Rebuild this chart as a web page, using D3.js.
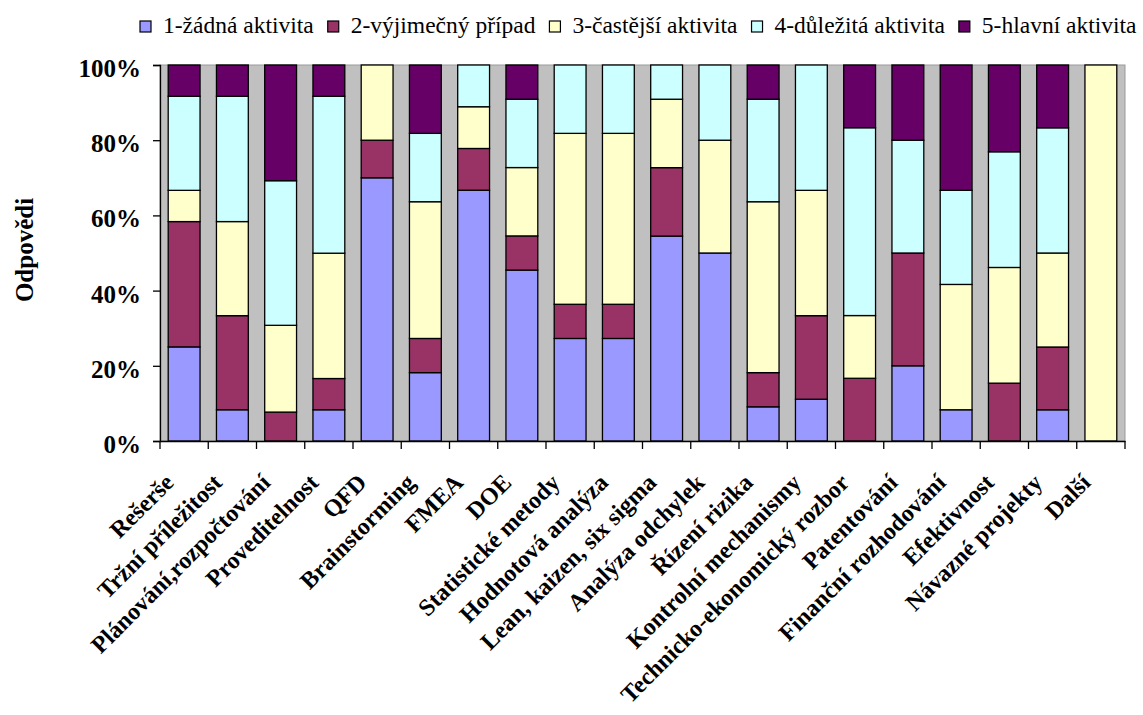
<!DOCTYPE html>
<html>
<head>
<meta charset="utf-8">
<script src="https://cdn.jsdelivr.net/npm/d3@7"></script>
<style>
  html, body { margin: 0; padding: 0; background: #fff; }
  svg { display: block; }
</style>
</head>
<body>
<svg id="chart" width="1143" height="715"></svg>
<script>
const categories = ["Rešerše","Tržní příležitost","Plánování,rozpočtování","Proveditelnost","QFD","Brainstorming","FMEA","DOE","Statistické metody","Hodnotová analýza","Lean, kaizen, six sigma","Analýza odchylek","Řízení rizika","Kontrolní mechanismy","Technicko-ekonomický rozbor","Patentování","Finanční rozhodování","Efektivnost","Návazné projekty","Další"];
const seriesNames = ["1-žádná aktivita","2-výjimečný případ","3-častější aktivita","4-důležitá aktivita","5-hlavní aktivita"];
const s1 = [25,8.3,0,8.3,70,18.2,66.7,45.5,27.3,27.3,54.5,50,9.1,11.1,0,20,8.3,0,8.3,0];
const s2 = [33.3,25,7.7,8.3,10,9.1,11.1,9.1,9.1,9.1,18.2,0,9.1,22.2,16.7,30,0,15.4,16.7,0];
const s3 = [8.3,25,23.1,33.3,20,36.4,11.1,18.2,45.5,45.5,18.2,30,45.5,33.3,16.7,0,33.3,30.8,25,100];
const s4 = [25,33.3,38.5,41.7,0,18.2,11.1,18.2,18.2,18.2,9.1,20,27.3,33.3,50,30,25,30.8,33.3,0];
const s5 = [8.3,8.3,30.8,8.3,0,18.2,0,9.1,0,0,0,0,9.1,0,16.7,20,33.3,23.1,16.7,0];
const yTicks = [0,0.2,0.4,0.6,0.8,1.0];
const colors = ["#9999FF","#993366","#FFFFCC","#CCFFFF","#660066"];
const axisTitle = "Odpovědi";

const FONT = "'Liberation Serif','Times New Roman',Times,serif";
const svg = d3.select("#chart");
const m = {left:160, right:1125, top:65, bottom:441};

const allSeries = [s1,s2,s3,s4,s5];
const rows = categories.map((c,i)=>{
  const r = {cat:c};
  seriesNames.forEach((n,j)=> r[n] = allSeries[j][i]);
  return r;
});
const stack = d3.stack().keys(seriesNames).offset(d3.stackOffsetExpand);
const stacked = stack(rows);

const x = d3.scaleBand().domain(categories).range([m.left, m.right]).paddingInner(0.34).paddingOuter(0.17);
const y = d3.scaleLinear().domain([0,1]).range([m.bottom, m.top]);

// plot background
svg.append("rect").attr("x", m.left).attr("y", m.top)
  .attr("width", m.right-m.left).attr("height", m.bottom-m.top)
  .attr("fill", "#C0C0C0").attr("stroke","#9a9a9a").attr("stroke-width",1);

// bars
const g = svg.append("g");
stacked.forEach((layer, j)=>{
  g.selectAll(null).data(layer).enter().append("rect")
    .attr("x", d=> x(d.data.cat))
    .attr("width", x.bandwidth())
    .attr("y", d=> y(d[1]))
    .attr("height", d=> Math.max(0, y(d[0]) - y(d[1])))
    .attr("fill", colors[j])
    .attr("stroke", d => (d[1]-d[0])>0 ? "#000" : "none")
    .attr("stroke-width", 1.3);
});

// y axis
const yAxis = d3.axisLeft(y).tickValues(yTicks).tickFormat(d3.format(".0%")).tickSize(7).tickPadding(12);
const ya = svg.append("g").attr("transform", `translate(${m.left},0)`).call(yAxis);
ya.select(".domain").attr("stroke","#000").attr("stroke-width",1.3);
ya.selectAll(".tick line").attr("stroke","#000").attr("stroke-width",1.3);
ya.selectAll(".tick text").attr("font-family", FONT).attr("font-size", 25).attr("font-weight","bold")
  .attr("fill","#000").attr("dy","0.46em");

// x axis
const xAxis = d3.axisBottom(x).tickSize(0).tickFormat("");
const xa = svg.append("g").attr("transform", `translate(0,${m.bottom})`).call(xAxis);
xa.select(".domain").attr("stroke","#000").attr("stroke-width",1.3);
// tick marks at band boundaries
const step = x.step();
const bounds = d3.range(categories.length+1).map(i => m.left + i*step);
xa.selectAll(".bound").data(bounds).enter().append("line")
  .attr("x1", d=>d).attr("x2", d=>d).attr("y1", 0).attr("y2", 8)
  .attr("stroke","#000").attr("stroke-width",1.3);

// x labels
svg.append("g").selectAll("text").data(categories).enter().append("text")
  .attr("transform", d => `translate(${x(d)+x.bandwidth()/2-9},${484}) rotate(-45)`)
  .attr("text-anchor","end")
  .attr("font-family", FONT).attr("font-size", 24).attr("font-weight","bold")
  .attr("fill","#000")
  .text(d=>d);

// y axis title
svg.append("text")
  .attr("transform","translate(33,250) rotate(-90)")
  .attr("text-anchor","middle")
  .attr("font-family", FONT).attr("font-size", 25).attr("font-weight","bold")
  .text(axisTitle);

// legend
const lg = svg.append("g");
let lx = 140;
seriesNames.forEach((n,j)=>{
  lg.append("rect").attr("x", lx).attr("y", 21).attr("width", 11).attr("height", 11)
    .attr("fill", colors[j]).attr("stroke","#000").attr("stroke-width",1.2);
  const t = lg.append("text").attr("x", lx+23).attr("y", 33)
    .attr("font-family", FONT).attr("font-size", 23.5).attr("fill","#000").text(n);
  lx = lx + 23 + t.node().getComputedTextLength() + 14;
});
</script>
</body>
</html>
